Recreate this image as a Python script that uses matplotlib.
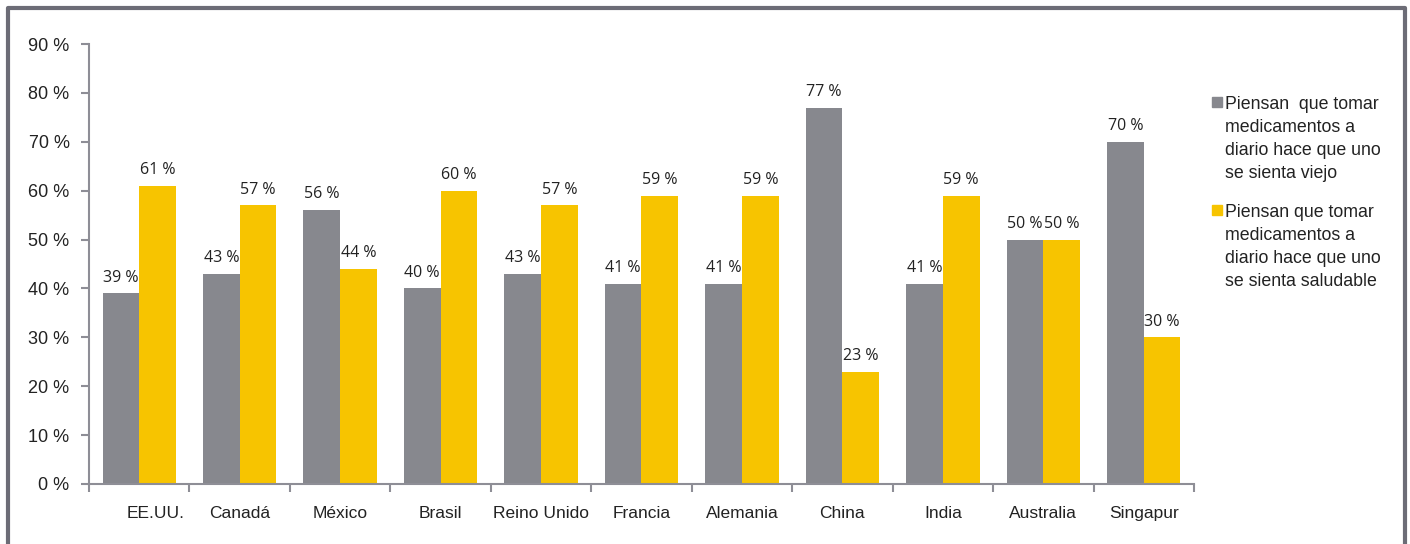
import matplotlib.pyplot as plt
import numpy as np
from matplotlib.patches import Rectangle
from matplotlib.lines import Line2D
from matplotlib.transforms import ScaledTranslation

# Survey results per country (percent)
countries = ['EE.UU.', 'Canadá', 'México', 'Brasil', 'Reino Unido', 'Francia',
             'Alemania', 'China', 'India', 'Australia', 'Singapur']
viejo = [39, 43, 56, 40, 43, 41, 41, 77, 41, 50, 70]
saludable = [61, 57, 44, 60, 57, 59, 59, 23, 59, 50, 30]
series_labels = ['Piensan  que tomar\nmedicamentos a\ndiario hace que uno\nse sienta viejo',
                 'Piensan que tomar\nmedicamentos a\ndiario hace que uno\nse sienta saludable']
yticks = np.arange(0, 91, 10)

GRAY = '#87888e'
YELLOW = '#f7c400'
AXIS = '#8e8e96'

plt.rcParams['font.family'] = ['Liberation Sans', 'DejaVu Sans']

fig = plt.figure(figsize=(14.1, 5.44), dpi=100)
ax = fig.add_axes([0.0631, 0.1103, 0.7837, 0.8088])

x = np.arange(len(countries))
w = 0.365
b1 = ax.bar(x - w/2, viejo, w, color=GRAY)
b2 = ax.bar(x + w/2, saludable, w, color=YELLOW)

# value labels above each bar
for bars, vals in ((b1, viejo), (b2, saludable)):
    for r, v in zip(bars, vals):
        ax.text(r.get_x() + r.get_width()/2, v + 1.6, '%d %%' % v,
                ha='center', va='bottom', fontsize=11.5, family='Open Sans',
                color='#222222')

ax.set_xlim(-0.5, len(countries) - 0.5)
ax.set_ylim(0, 90)
ax.set_yticks(yticks)
ax.set_yticklabels(['%d %%' % t for t in yticks], fontsize=13, color='#222222')
ax.set_xticks(x)
ax.set_xticklabels(countries, fontsize=12.5, color='#222222')
ax.set_xticks(np.arange(len(countries) + 1) - 0.5, minor=True)
ax.tick_params(axis='x', which='major', length=0, pad=16)
ax.tick_params(axis='x', which='minor', length=6, width=1.5, color=AXIS)
ax.tick_params(axis='y', length=6, width=1.5, color=AXIS, pad=8)

# first category label sits a bit to the right
lab0 = ax.get_xticklabels()[0]
lab0.set_transform(lab0.get_transform() + ScaledTranslation(0.16, 0, fig.dpi_scale_trans))

for s in ('top', 'right'):
    ax.spines[s].set_visible(False)
for s in ('left', 'bottom'):
    ax.spines[s].set_color(AXIS)
    ax.spines[s].set_linewidth(1.5)

# legend drawn by hand: small square followed by wrapped text
leg_x = 1212 / 1410
leg_y = [104 / 544, 212 / 544]
for col, lab, yy in zip((GRAY, YELLOW), series_labels, leg_y):
    fig.patches.append(Rectangle((leg_x, 1 - yy - 0.006), 10 / 1410, 10 / 544,
                                 transform=fig.transFigure, color=col))
    fig.text(leg_x + 13 / 1410, 1 - yy + 0.014, lab, ha='left', va='top',
             fontsize=12.8, color='#222222', linespacing=1.45)

# outer frame (top, left, right)
fc = '#6c6c76'
fig.lines.append(Line2D([8/1410, 8/1410, 1405/1410, 1405/1410], [0, 1 - 8/544, 1 - 8/544, 0],
                        transform=fig.transFigure, color=fc, linewidth=3))

fig.savefig('out.png')
